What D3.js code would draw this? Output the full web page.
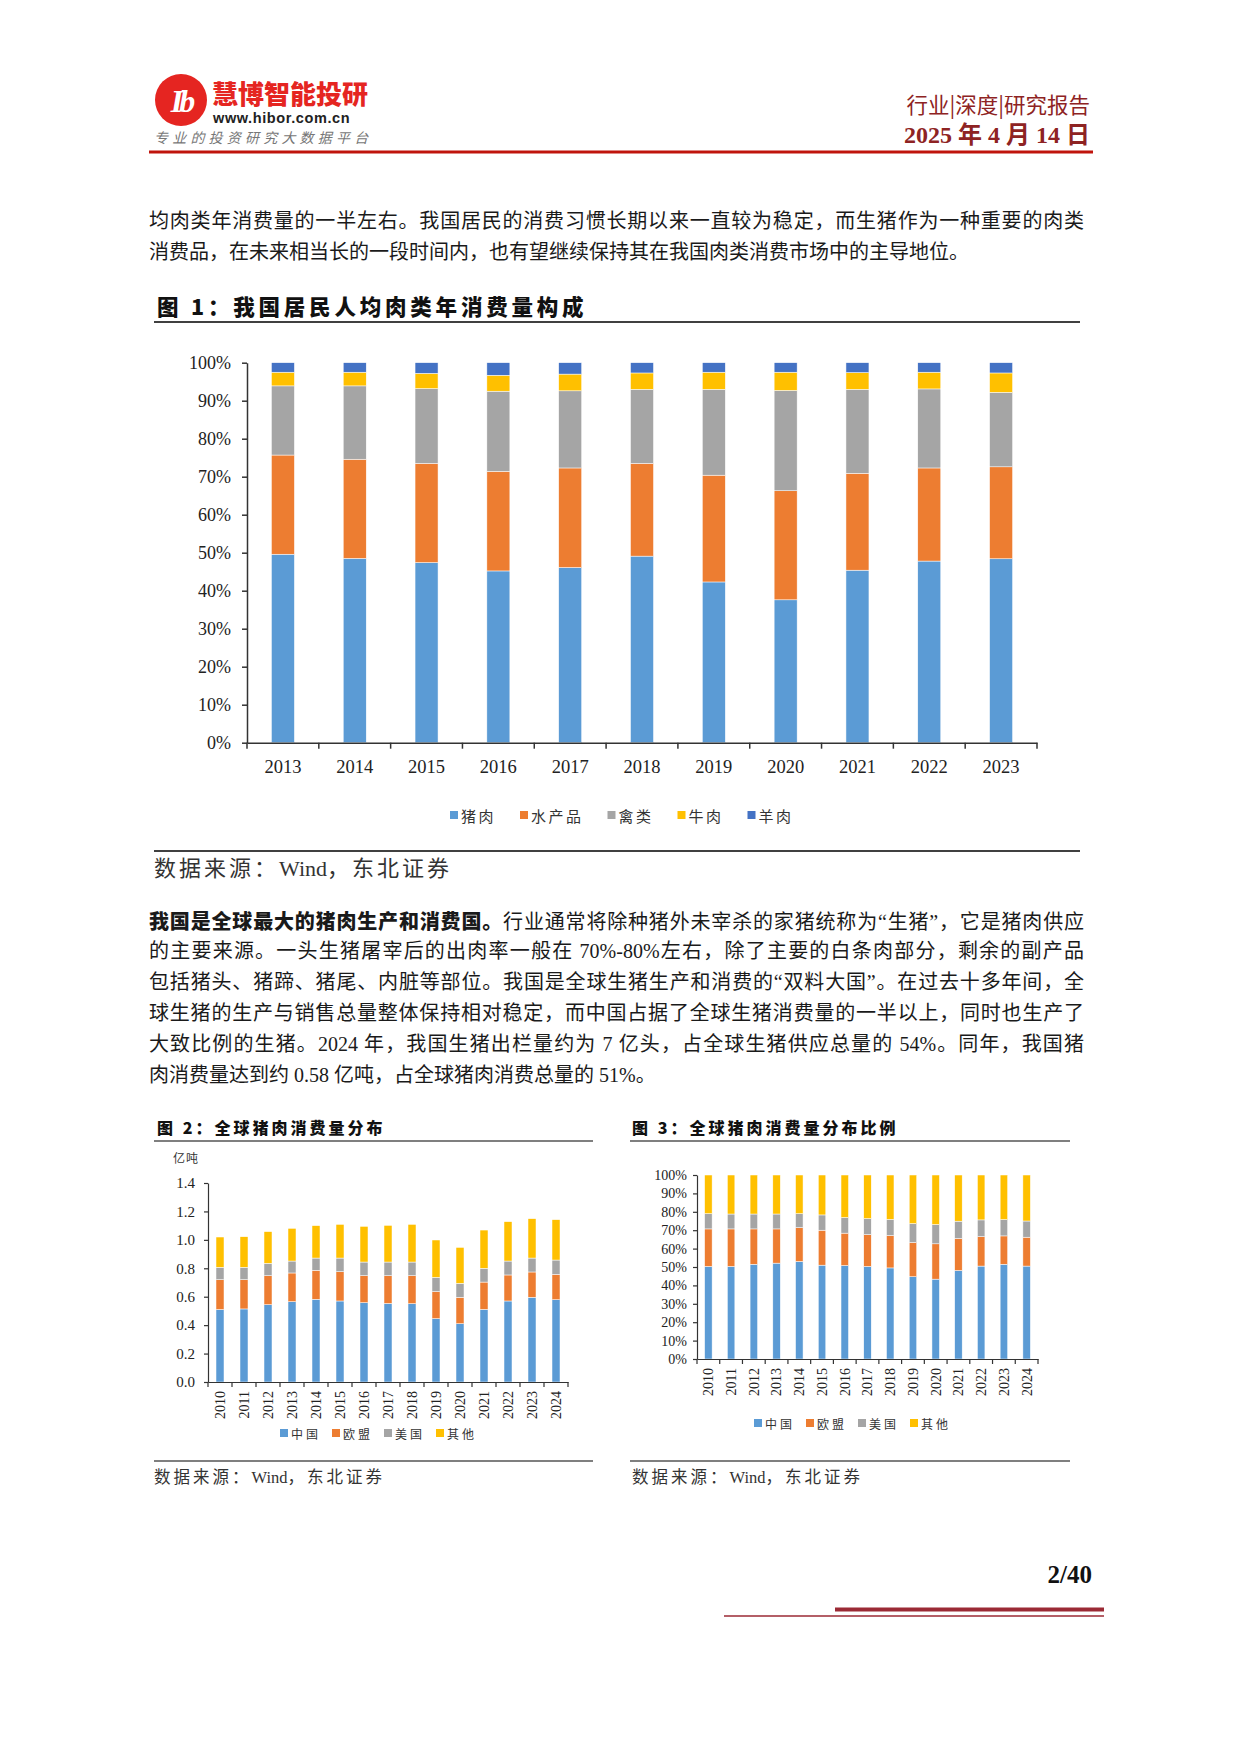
<!DOCTYPE html>
<html><head><meta charset="utf-8">
<script src="https://cdn.jsdelivr.net/npm/d3@7"></script>
<style>
body{margin:0;background:#fff;}
#page{position:relative;width:1240px;height:1754px;overflow:hidden;background:#fff;}
svg{position:absolute;left:0;top:0;}
.ln{position:absolute;left:149px;width:935px;height:31px;line-height:31px;font-size:20px;font-family:"Liberation Serif","Noto Sans CJK SC",serif;color:#1a1a1a;white-space:nowrap;}
.j{text-align:justify;text-align-last:justify;}
.ln b{font-weight:900;font-family:"Noto Sans CJK SC",sans-serif;}
</style></head><body><div id="page"><svg id="svg" width="1240" height="1754"></svg>
<div class="ln j" style="top:206px">均肉类年消费量的一半左右。我国居民的消费习惯长期以来一直较为稳定，而生猪作为一种重要的肉类</div>
<div class="ln" style="top:237px">消费品，在未来相当长的一段时间内，也有望继续保持其在我国肉类消费市场中的主导地位。</div>
<div class="ln j" style="top:905px"><b>我国是全球最大的猪肉生产和消费国。</b>行业通常将除种猪外未宰杀的家猪统称为“生猪”，它是猪肉供应</div>
<div class="ln j" style="top:936px">的主要来源。一头生猪屠宰后的出肉率一般在 70%-80%左右，除了主要的白条肉部分，剩余的副产品</div>
<div class="ln j" style="top:967px">包括猪头、猪蹄、猪尾、内脏等部位。我国是全球生猪生产和消费的“双料大国”。在过去十多年间，全</div>
<div class="ln j" style="top:998px">球生猪的生产与销售总量整体保持相对稳定，而中国占据了全球生猪消费量的一半以上，同时也生产了</div>
<div class="ln j" style="top:1029px">大致比例的生猪。2024 年，我国生猪出栏量约为 7 亿头，占全球生猪供应总量的 54%。同年，我国猪</div>
<div class="ln" style="top:1060px">肉消费量达到约 0.58 亿吨，占全球猪肉消费总量的 51%。</div>
</div>
<script>
// ---------- Figure 1 data (% share) ----------
const years1 = ['2013','2014','2015','2016','2017','2018','2019','2020','2021','2022','2023'];
const pork    = [49.6,48.5,47.4,45.2,46.1,49.1,42.3,37.6,45.4,47.8,48.4];
const aquatic = [26.1,26.1,26.1,26.2,26.2,24.4,28.1,28.7,25.5,24.5,24.2];
const poultry = [18.2,19.3,19.7,21.1,20.3,19.5,22.6,26.4,22.1,20.8,19.6];
const beef    = [3.6,3.6,4.0,4.2,4.4,4.3,4.5,4.8,4.4,4.4,5.1];
const mutton  = [2.5,2.5,2.8,3.3,3.0,2.7,2.5,2.5,2.6,2.5,2.7];
const names1 = ['猪肉','水产品','禽类','牛肉','羊肉'];
const ticks1 = [0,10,20,30,40,50,60,70,80,90,100];

// ---------- Figure 2 data (亿吨) ----------
const years2 = ['2010','2011','2012','2013','2014','2015','2016','2017','2018','2019','2020','2021','2022','2023','2024'];
const china2 = [0.510,0.514,0.544,0.565,0.582,0.570,0.558,0.553,0.551,0.446,0.410,0.511,0.570,0.596,0.579];
const eu2    = [0.210,0.206,0.204,0.202,0.204,0.206,0.190,0.195,0.197,0.190,0.186,0.192,0.183,0.178,0.178];
const us2    = [0.087,0.087,0.087,0.084,0.086,0.096,0.096,0.096,0.096,0.100,0.098,0.097,0.098,0.098,0.101];
const other2 = [0.213,0.215,0.223,0.230,0.228,0.237,0.251,0.258,0.265,0.263,0.253,0.269,0.277,0.277,0.284];
const ticks2 = [0,0.2,0.4,0.6,0.8,1.0,1.2,1.4];

// ---------- Figure 3 data (% share) ----------
const china3 = [50.3,50.3,51.5,52.1,53.0,51.0,50.8,50.3,49.5,44.7,43.4,48.1,50.5,51.5,50.5];
const eu3    = [20.4,20.4,19.2,18.6,18.4,19.0,17.6,17.3,17.6,18.6,19.2,17.4,16.0,15.4,15.7];
const us3    = [8.3,8.1,8.1,8.1,7.6,8.3,8.5,8.7,8.8,10.3,10.5,9.4,9.1,8.9,8.8];
const other3 = [21.0,21.2,21.2,21.2,21.0,21.7,23.1,23.7,24.1,26.4,26.9,25.1,24.4,24.2,25.0];
const names2 = ['中国','欧盟','美国','其他'];

const colors = ['#5B9BD5','#ED7D31','#A5A5A5','#FFC000','#4472C4'];
const SERIF = '"Liberation Serif","Noto Sans CJK SC",serif';
const CJK = '"Noto Sans CJK SC",sans-serif';

const svg = d3.select('#svg');

function txt(x,y,s,o){
  const t = svg.append('text').attr('x',x).attr('y',y).attr('dominant-baseline','central').text(s);
  Object.entries(o||{}).forEach(([k,v])=>t.attr(k,v));
  return t;
}
function hline(x1,x2,y,c,w){svg.append('line').attr('x1',x1).attr('x2',x2).attr('y1',y).attr('y2',y).attr('stroke',c).attr('stroke-width',w);}
function source(x,y,fs){
  const t = svg.append('text').attr('x',x).attr('y',y).attr('dominant-baseline','central')
    .attr('font-size',fs).attr('fill','#333').attr('font-family',SERIF);
  t.append('tspan').attr('letter-spacing',3).text('数据来源：');
  t.append('tspan').attr('letter-spacing',0).text('Wind');
  t.append('tspan').attr('letter-spacing',3).text('，东北证券');
}

// ---------- Header ----------
svg.append('circle').attr('cx',181).attr('cy',100).attr('r',26).attr('fill','#E52521');
txt(181,101,'Ib',{'text-anchor':'middle','font-size':32,'font-weight':'bold','font-style':'italic','fill':'#fff','font-family':'"Liberation Serif",serif','letter-spacing':-4});
txt(212,92,'慧博智能投研',{'font-size':26,'font-weight':900,'fill':'#E52521','font-family':CJK});
txt(213,118,'www.hibor.com.cn',{'font-size':14.5,'font-weight':'bold','fill':'#222','font-family':'"Liberation Sans",sans-serif','letter-spacing':0.6});
txt(154,137,'专业的投资研究大数据平台',{'font-size':14,'fill':'#777','font-style':'italic','font-family':CJK,'letter-spacing':4.2});
txt(1090,103,'行业|深度|研究报告',{'text-anchor':'end','font-size':21.5,'fill':'#8E2323','font-family':CJK});
txt(1090,135,'2025 年 4 月 14 日',{'text-anchor':'end','font-size':24,'font-weight':'bold','fill':'#8E2323','font-family':SERIF});
svg.append('rect').attr('x',149).attr('y',150.5).attr('width',944).attr('height',3).attr('fill','#C0140C');

// ---------- Titles / sources ----------
txt(157,305,'图 1：我国居民人均肉类年消费量构成',{'font-size':21.5,'font-weight':900,'fill':'#111','font-family':CJK,'letter-spacing':3.8});
hline(154,1080,322,'#000',1.5);
hline(154,1080,851,'#000',1.5);
source(154,868,22);

txt(157,1127,'图 2：全球猪肉消费量分布',{'font-size':16,'font-weight':900,'fill':'#111','font-family':CJK,'letter-spacing':3});
hline(154,593,1141,'#000',1.2);
txt(632,1127,'图 3：全球猪肉消费量分布比例',{'font-size':16,'font-weight':900,'fill':'#111','font-family':CJK,'letter-spacing':3});
hline(630,1070,1141,'#000',1.2);
hline(154,593,1461,'#000',1.2);
hline(630,1070,1461,'#000',1.2);
source(154,1477,16.5);
source(632,1477,16.5);

// ---------- Footer ----------
txt(1092,1574,'2/40',{'text-anchor':'end','font-size':25,'font-weight':'bold','fill':'#111','font-family':SERIF});
svg.append('rect').attr('x',835).attr('y',1607.5).attr('width',269).attr('height',4).attr('fill','#9B2A35');
hline(724,1104,1616,'#9B2A35',1.5);

// ---------- Generic stacked bar chart ----------
function drawChart(c){
  const x = d3.scaleBand().domain(c.cats).range([c.left,c.right]).padding(0);
  const y = d3.scaleLinear().domain([0,c.yMax]).range([c.bottom,c.top]);
  const rows = c.cats.map((cat,i)=>{const o={cat}; c.names.forEach((n,k)=>o[n]=c.series[k][i]); return o;});
  const stacked = d3.stack().keys(c.names)(rows);
  const g = svg.append('g');
  g.selectAll('g.s').data(stacked).join('g').attr('class','s').attr('fill',(d,i)=>colors[i])
    .selectAll('rect').data(d=>d).join('rect')
    .attr('x',d=>x(d.data.cat)+x.bandwidth()/2-c.barW/2).attr('width',c.barW)
    .attr('y',d=>y(d[1])).attr('height',d=>Math.max(0,y(d[0])-y(d[1])))
    .attr('stroke','#fff').attr('stroke-width',0.5);
  const ya = g.append('g').attr('transform',`translate(${c.left},0)`)
    .call(d3.axisLeft(y).tickValues(c.yTicks).tickFormat(c.yFmt).tickSize(c.tickLen).tickSizeOuter(0).tickPadding(c.yPad));
  ya.selectAll('text').attr('font-size',c.yFont).attr('font-family',SERIF).attr('fill','#222');
  ya.selectAll('line,path').attr('stroke','#333').attr('stroke-width',c.axisW);
  const xa = g.append('g').attr('transform',`translate(0,${c.bottom})`)
    .call(d3.axisBottom(x).tickSize(0).tickSizeOuter(0).tickPadding(c.xPad));
  xa.selectAll('path').attr('stroke','#333').attr('stroke-width',c.axisW);
  const xt = xa.selectAll('text').attr('font-size',c.xFont).attr('font-family',SERIF).attr('fill','#222');
  if(c.rotate){
    xt.attr('x',0).attr('y',0).attr('dy','0.35em').attr('dx',-c.xPad).attr('transform','rotate(-90)').attr('text-anchor','end');
  }
  const bounds = c.cats.map(d=>x(d)).concat([c.right]);
  g.selectAll('line.bt').data(bounds).join('line').attr('class','bt')
    .attr('x1',d=>d).attr('x2',d=>d).attr('y1',c.bottom).attr('y2',c.bottom+c.tickLen+1)
    .attr('stroke','#333').attr('stroke-width',c.axisW);
  // legend
  let lx = c.legX;
  c.names.forEach((n,i)=>{
    g.append('rect').attr('x',lx).attr('y',c.legY-c.sq/2).attr('width',c.sq).attr('height',c.sq).attr('fill',colors[i]);
    g.append('text').attr('x',lx+c.sq+3).attr('y',c.legY).attr('dominant-baseline','central')
      .attr('font-size',c.legFont).attr('letter-spacing',c.legLs).attr('font-family',CJK).attr('fill','#333').text(n);
    lx += c.sq + 3 + n.length*(c.legFont+c.legLs) + c.legGap;
  });
}

drawChart({cats:years1, series:[pork,aquatic,poultry,beef,mutton], names:names1,
  left:247,right:1037,top:362.7,bottom:742.7,yMax:100,yTicks:ticks1,yFmt:d=>d+'%',
  barW:23,tickLen:5,yPad:11,xPad:17,yFont:18,xFont:18.5,axisW:1.5,rotate:false,
  legX:450,legY:815,sq:8,legFont:15,legLs:2.5,legGap:24});

svg.append('text').attr('x',173).attr('y',1157).attr('dominant-baseline','central')
  .attr('font-size',12).attr('font-family',CJK).attr('fill','#333').attr('letter-spacing',1).text('亿吨');
drawChart({cats:years2, series:[china2,eu2,us2,other2], names:names2,
  left:208,right:568,top:1183,bottom:1382,yMax:1.4,yTicks:ticks2,yFmt:d3.format('.1f'),
  barW:8,tickLen:4,yPad:9,xPad:9,yFont:15,xFont:14,axisW:1.2,rotate:true,
  legX:280,legY:1433,sq:8,legFont:12,legLs:3,legGap:11});

drawChart({cats:years2, series:[china3,eu3,us3,other3], names:names2,
  left:697,right:1038,top:1175,bottom:1359,yMax:100,yTicks:ticks1,yFmt:d=>d+'%',
  barW:7.5,tickLen:4,yPad:6,xPad:9,yFont:14,xFont:14,axisW:1.2,rotate:true,
  legX:754,legY:1423,sq:8,legFont:12,legLs:3,legGap:11});
</script></body></html>
